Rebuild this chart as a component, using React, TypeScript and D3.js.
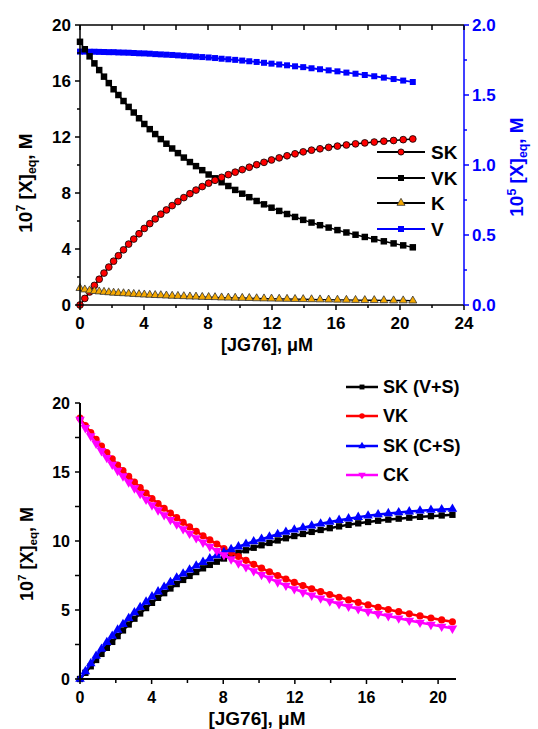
import * as d3 from 'd3'

// titrant concentration, uM (same points for both panels)
const jg76 = [0, 0.3, 0.6, 0.9, 1.2, 1.5, 1.8, 2.1, 2.4, 2.72, 3.04, 3.36, 3.69, 4.02, 4.36, 4.7, 5.05, 5.4, 5.76, 6.12, 6.49, 6.87, 7.25, 7.64, 8.04, 8.44, 8.85, 9.27, 9.7, 10.14, 10.58, 11.04, 11.5, 11.97, 12.45, 12.94, 13.44, 13.95, 14.47, 15.0, 15.54, 16.09, 16.65, 17.22, 17.8, 18.39, 18.99, 19.6, 20.2, 20.8]

// top panel, 10^7 M
const skTop = [0, 0.47, 0.93, 1.4, 1.84, 2.28, 2.71, 3.13, 3.52, 3.94, 4.35, 4.71, 5.09, 5.47, 5.81, 6.15, 6.49, 6.79, 7.1, 7.39, 7.67, 7.95, 8.21, 8.46, 8.7, 8.91, 9.12, 9.31, 9.49, 9.67, 9.84, 10.02, 10.19, 10.36, 10.51, 10.66, 10.8, 10.94, 11.06, 11.16, 11.26, 11.35, 11.43, 11.51, 11.58, 11.64, 11.7, 11.75, 11.81, 11.86]
const vkTop = [18.8, 18.27, 17.76, 17.26, 16.78, 16.31, 15.85, 15.41, 15.0, 14.57, 14.15, 13.75, 13.34, 12.93, 12.56, 12.21, 11.85, 11.52, 11.18, 10.85, 10.53, 10.21, 9.92, 9.63, 9.32, 9.05, 8.77, 8.5, 8.22, 7.95, 7.7, 7.43, 7.19, 6.95, 6.72, 6.5, 6.29, 6.08, 5.89, 5.7, 5.53, 5.35, 5.18, 5.02, 4.86, 4.7, 4.55, 4.4, 4.26, 4.12]
const kTop = [1.2, 1.1, 1.03, 0.99, 0.96, 0.93, 0.9, 0.87, 0.85, 0.83, 0.81, 0.78, 0.76, 0.74, 0.72, 0.7, 0.69, 0.67, 0.65, 0.64, 0.62, 0.6, 0.59, 0.57, 0.56, 0.55, 0.53, 0.52, 0.51, 0.5, 0.49, 0.47, 0.46, 0.45, 0.44, 0.43, 0.42, 0.41, 0.4, 0.39, 0.38, 0.37, 0.36, 0.35, 0.34, 0.34, 0.33, 0.32, 0.32, 0.31]
// top panel right axis, 10^5 M
const vTop = [1.81, 1.81, 1.809, 1.809, 1.808, 1.807, 1.806, 1.806, 1.804, 1.803, 1.802, 1.8, 1.798, 1.797, 1.795, 1.792, 1.79, 1.788, 1.786, 1.783, 1.78, 1.777, 1.774, 1.771, 1.768, 1.764, 1.759, 1.755, 1.751, 1.746, 1.741, 1.736, 1.73, 1.724, 1.718, 1.712, 1.705, 1.699, 1.691, 1.684, 1.676, 1.669, 1.66, 1.652, 1.643, 1.634, 1.624, 1.614, 1.603, 1.593]

// bottom panel, 10^7 M
const skVS = [0, 0.45, 0.92, 1.38, 1.82, 2.26, 2.69, 3.11, 3.52, 3.95, 4.37, 4.75, 5.14, 5.52, 5.88, 6.22, 6.56, 6.88, 7.18, 7.47, 7.75, 8.02, 8.27, 8.5, 8.73, 8.94, 9.14, 9.33, 9.51, 9.69, 9.86, 10.04, 10.2, 10.36, 10.51, 10.66, 10.8, 10.93, 11.06, 11.17, 11.28, 11.38, 11.47, 11.55, 11.62, 11.69, 11.75, 11.8, 11.85, 11.9]
const vkBot = [18.9, 18.37, 17.86, 17.36, 16.88, 16.41, 15.95, 15.51, 15.1, 14.68, 14.27, 13.88, 13.48, 13.08, 12.72, 12.37, 12.02, 11.69, 11.35, 11.02, 10.7, 10.38, 10.08, 9.78, 9.46, 9.17, 8.88, 8.6, 8.31, 8.03, 7.77, 7.5, 7.25, 7.0, 6.77, 6.54, 6.33, 6.12, 5.92, 5.73, 5.55, 5.37, 5.2, 5.04, 4.88, 4.72, 4.57, 4.42, 4.28, 4.15]
const skCS = [0, 0.55, 1.12, 1.66, 2.17, 2.66, 3.12, 3.56, 3.97, 4.4, 4.82, 5.2, 5.59, 5.97, 6.33, 6.67, 7.01, 7.33, 7.63, 7.92, 8.2, 8.47, 8.72, 8.95, 9.18, 9.39, 9.59, 9.78, 9.96, 10.14, 10.31, 10.49, 10.65, 10.81, 10.96, 11.11, 11.25, 11.38, 11.51, 11.62, 11.73, 11.83, 11.92, 12.0, 12.07, 12.13, 12.19, 12.24, 12.28, 12.32]
const ckBot = [18.8, 18.2, 17.61, 17.06, 16.53, 16.03, 15.55, 15.1, 14.7, 14.26, 13.83, 13.42, 13.01, 12.6, 12.24, 11.89, 11.54, 11.21, 10.87, 10.54, 10.22, 9.9, 9.6, 9.3, 8.98, 8.69, 8.4, 8.12, 7.83, 7.55, 7.29, 7.02, 6.77, 6.52, 6.29, 6.06, 5.85, 5.64, 5.44, 5.25, 5.07, 4.89, 4.72, 4.56, 4.4, 4.24, 4.09, 3.94, 3.8, 3.67]

const topLegend = ['SK', 'VK', 'K', 'V']
const botLegend = ['SK (V+S)', 'VK', 'SK (C+S)', 'CK']

const FONT = 'Arial, "Liberation Sans", sans-serif'

const sym = (type, size, rot = 0) => ({ d: d3.symbol().type(type).size(size)(), rot })

const SHAPES = {
  circle: (s) => sym(d3.symbolCircle, s),
  square: (s) => sym(d3.symbolSquare, s),
  tri: (s) => sym(d3.symbolTriangle, s),
  triDown: (s) => sym(d3.symbolTriangle, s, 180),
}

function Series({ xs, ys, x, y, line, lineWidth, shape, size, fill, stroke }) {
  const path = d3.line().x((d, i) => x(xs[i])).y(d => y(d))(ys)
  const s = SHAPES[shape](size)
  return (
    <g>
      <path d={path} fill="none" stroke={line} strokeWidth={lineWidth} />
      {ys.map((v, i) => (
        <path key={i} d={s.d}
          transform={`translate(${x(xs[i])},${y(v)}) rotate(${s.rot})`}
          fill={fill} stroke={stroke} strokeWidth={stroke === 'none' ? 0 : 0.8} />
      ))}
    </g>
  )
}

function LegendRow({ x0, x1, tx, cy, line, lineWidth, shape, size, fill, stroke, label, fontSize, textColor = '#000' }) {
  const s = SHAPES[shape](size)
  return (
    <g>
      <line x1={x0} x2={x1} y1={cy} y2={cy} stroke={line} strokeWidth={lineWidth} />
      <path d={s.d} transform={`translate(${(x0 + x1) / 2},${cy}) rotate(${s.rot})`}
        fill={fill} stroke={stroke} strokeWidth={stroke === 'none' ? 0 : 0.8} />
      <text x={tx} y={cy} dy="0.36em" fontSize={fontSize} fontWeight="bold" fill={textColor}>{label}</text>
    </g>
  )
}

function YTitle({ x, y, exp, color = '#000', size = 18 }) {
  return (
    <text transform={`translate(${x},${y}) rotate(-90)`} textAnchor="middle" fontSize={size}
      fontWeight="bold" fill={color}>
      10<tspan dy="-7" fontSize={size * 0.65}>{exp}</tspan>
      <tspan dy="7"> [X]</tspan>
      <tspan dy="4" fontSize={size * 0.65}>eq</tspan>
      <tspan dy="-4">, M</tspan>
    </text>
  )
}

function TopPanel() {
  const x = d3.scaleLinear().domain([0, 24]).range([80, 464])
  const y = d3.scaleLinear().domain([0, 20]).range([305, 25])
  const yr = d3.scaleLinear().domain([0, 2]).range([305, 25])
  const [x0, x1] = x.range()
  const [yb, yt] = y.range()
  const xMinor = d3.range(0, 25, 2)
  const yMinor = d3.range(0, 21, 2)
  const rMinor = d3.range(0, 2.01, 0.25)

  return (
    <g fontFamily={FONT}>
      <Series xs={jg76} ys={vTop} x={x} y={yr} line="#0000ff" lineWidth={1.8} shape="square" size={36} fill="#0000ff" stroke="none" />
      <Series xs={jg76} ys={vkTop} x={x} y={y} line="#000" lineWidth={1.5} shape="square" size={42} fill="#000" stroke="none" />
      <Series xs={jg76} ys={skTop} x={x} y={y} line="#000" lineWidth={1.5} shape="circle" size={36} fill="#ff0000" stroke="#000" />
      <Series xs={jg76} ys={kTop} x={x} y={y} line="#000" lineWidth={1.3} shape="tri" size={28} fill="#f5a800" stroke="#333" />

      {/* frame */}
      <line x1={x0} x2={x1} y1={yt} y2={yt} stroke="#000" strokeWidth={1.5} />
      <line x1={x0} x2={x1} y1={yb} y2={yb} stroke="#000" strokeWidth={1.5} />
      <line x1={x0} x2={x0} y1={yt} y2={yb} stroke="#000" strokeWidth={1.5} />
      <line x1={x1} x2={x1} y1={yt} y2={yb} stroke="#0000ff" strokeWidth={1.5} />

      {xMinor.map(v => (
        <g key={v}>
          <line x1={x(v)} x2={x(v)} y1={yb} y2={yb + (v % 4 === 0 ? 5 : 3)} stroke="#000" strokeWidth={1.5} />
          <line x1={x(v)} x2={x(v)} y1={yt} y2={yt + 5} stroke="#000" strokeWidth={1.5} />
          {v % 4 === 0 && (
            <text x={x(v)} y={yb + 24} textAnchor="middle" fontSize={17} fontWeight="bold">{v}</text>
          )}
        </g>
      ))}
      {yMinor.map(v => (
        <g key={v}>
          <line x1={x0} x2={x0 - (v % 4 === 0 ? 5 : 3)} y1={y(v)} y2={y(v)} stroke="#000" strokeWidth={1.5} />
          {v % 4 === 0 && (
            <text x={x0 - 9} y={y(v)} dy="0.36em" textAnchor="end" fontSize={17} fontWeight="bold">{v}</text>
          )}
        </g>
      ))}
      {rMinor.map(v => (
        <g key={v}>
          <line x1={x1} x2={x1 + (Math.round(v * 4) % 2 === 0 ? 5 : 3)} y1={yr(v)} y2={yr(v)} stroke="#0000ff" strokeWidth={1.5} />
          {Math.round(v * 4) % 2 === 0 && (
            <text x={x1 + 8} y={yr(v)} dy="0.36em" fontSize={17} fontWeight="bold" fill="#0000ff">{v.toFixed(1)}</text>
          )}
        </g>
      ))}

      <text x={267} y={351} textAnchor="middle" fontSize={18} fontWeight="bold">[JG76], μM</text>
      <YTitle x={32} y={183} exp="7" size={19} />
      <YTitle x={523} y={167} exp="5" color="#0000ff" size={19} />

      <LegendRow x0={377} x1={425} tx={431} cy={152} line="#000" lineWidth={2} shape="circle" size={30} fill="#ff0000" stroke="#000" label={topLegend[0]} fontSize={19} />
      <LegendRow x0={377} x1={425} tx={431} cy={178} line="#000" lineWidth={2} shape="square" size={36} fill="#000" stroke="none" label={topLegend[1]} fontSize={19} />
      <LegendRow x0={377} x1={425} tx={431} cy={203} line="#000" lineWidth={2} shape="tri" size={28} fill="#f5a800" stroke="#333" label={topLegend[2]} fontSize={19} />
      <LegendRow x0={377} x1={425} tx={431} cy={229} line="#0000ff" lineWidth={2} shape="square" size={36} fill="#0000ff" stroke="none" label={topLegend[3]} fontSize={19} />
    </g>
  )
}

function BottomPanel() {
  const x = d3.scaleLinear().domain([0, 21]).range([80, 456])
  const y = d3.scaleLinear().domain([0, 20]).range([679, 403])
  const [x0, x1] = x.range()
  const [yb, yt] = y.range()
  const xMinor = d3.range(0, 21, 2)
  const yMinor = d3.range(0, 20.1, 2.5)

  return (
    <g fontFamily={FONT}>
      <Series xs={jg76} ys={skVS} x={x} y={y} line="#000" lineWidth={2.5} shape="square" size={40} fill="#000" stroke="none" />
      <Series xs={jg76} ys={vkBot} x={x} y={y} line="#ff0000" lineWidth={2.5} shape="circle" size={40} fill="#ff0000" stroke="none" />
      <Series xs={jg76} ys={skCS} x={x} y={y} line="#0000ff" lineWidth={2.5} shape="tri" size={40} fill="#0000ff" stroke="none" />
      <Series xs={jg76} ys={ckBot} x={x} y={y} line="#ff00ff" lineWidth={2.5} shape="triDown" size={40} fill="#ff00ff" stroke="none" />

      <line x1={x0} x2={x1} y1={yb} y2={yb} stroke="#000" strokeWidth={2} />
      <line x1={x0} x2={x0} y1={yt} y2={yb} stroke="#000" strokeWidth={2} />

      {xMinor.map(v => (
        <g key={v}>
          <line x1={x(v)} x2={x(v)} y1={yb} y2={yb + (v % 4 === 0 ? 5 : 4)} stroke="#000" strokeWidth={1.5} />
          {v % 4 === 0 && (
            <text x={x(v)} y={yb + 24} textAnchor="middle" fontSize={16} fontWeight="bold">{v}</text>
          )}
        </g>
      ))}
      {yMinor.map(v => (
        <g key={v}>
          <line x1={x0} x2={x0 - 5} y1={y(v)} y2={y(v)} stroke="#000" strokeWidth={1.5} />
          {v % 5 === 0 && (
            <text x={x0 - 10} y={y(v)} dy="0.36em" textAnchor="end" fontSize={16} fontWeight="bold">{v}</text>
          )}
        </g>
      ))}

      <text x={257} y={725} textAnchor="middle" fontSize={19} fontWeight="bold">[JG76], μM</text>
      <YTitle x={33} y={554} exp="7" size={18} />

      <LegendRow x0={346} x1={378} tx={383} cy={387} line="#000" lineWidth={2.5} shape="square" size={24} fill="#000" stroke="none" label={botLegend[0]} fontSize={18} />
      <LegendRow x0={346} x1={378} tx={383} cy={416} line="#ff0000" lineWidth={2.5} shape="circle" size={24} fill="#ff0000" stroke="none" label={botLegend[1]} fontSize={18} />
      <LegendRow x0={346} x1={378} tx={383} cy={446} line="#0000ff" lineWidth={2.5} shape="tri" size={24} fill="#0000ff" stroke="none" label={botLegend[2]} fontSize={18} />
      <LegendRow x0={346} x1={378} tx={383} cy={475} line="#ff00ff" lineWidth={2.5} shape="triDown" size={24} fill="#ff00ff" stroke="none" label={botLegend[3]} fontSize={18} />
    </g>
  )
}

export default function App() {
  return (
    <svg width={538} height={729} style={{ position: 'absolute', left: 0, top: 0, background: '#fff' }}>
      <TopPanel />
      <BottomPanel />
    </svg>
  )
}
